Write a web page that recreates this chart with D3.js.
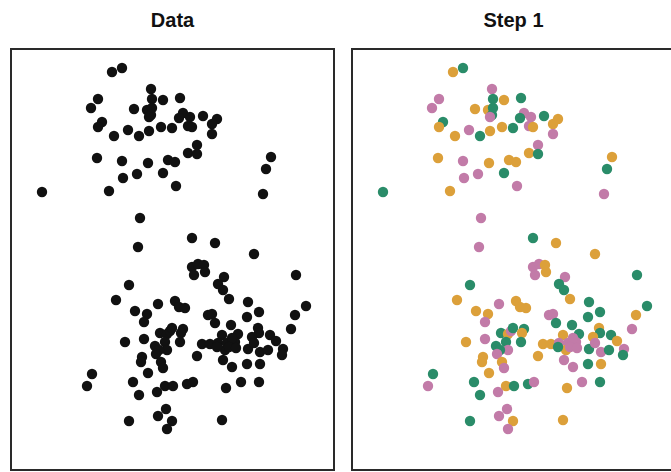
<!DOCTYPE html>
<html>
<head>
<meta charset="utf-8">
<script src="https://cdn.jsdelivr.net/npm/d3@7"></script>
<style>
    body { margin: 0; background: #fff; }
</style>
</head>
<body>
<div id="grafico-contenedor"></div>
<script>
/**************************************************
 * Data
***************************************************/
const xValues = [
    101, 111, 140, 87, 80, 141, 152, 169, 123, 136, 141, 140, 138, 172, 168, 179, 192, 206, 201, 177,
    181, 201, 91, 87, 103, 117, 128, 138, 150, 161, 186, 177, 186, 86, 111, 137, 157, 164, 112, 126,
    152, 165, 98, 31, 260, 255, 252, 129, 181, 204, 127, 243, 181, 187, 193, 183, 194, 285, 118, 213,
    207, 212, 218, 105, 164, 168, 174, 147, 237, 248, 236, 124, 136, 133, 197, 201, 204, 220, 284, 295,
    280, 247, 248, 114, 133, 149, 156, 159, 161, 172, 170, 154, 156, 169, 191, 199, 144, 148, 145, 150,
    152, 131, 130, 137, 186, 81, 76, 122, 128, 146, 154, 162, 176, 182, 155, 147, 161, 118, 156, 211,
    227, 207, 216, 224, 214, 212, 221, 206, 221, 241, 237, 243, 249, 257, 259, 265, 272, 271, 236, 249,
    230, 248, 215, 211, 218, 225
];
const yValues = [
    398, 402, 381, 371, 362, 371, 370, 372, 361, 360, 362, 355, 353, 357, 352, 353, 354, 351, 346, 344,
    343, 336, 348, 343, 334, 340, 334, 339, 343, 342, 325, 317, 316, 312, 309, 307, 310, 308, 292, 296,
    297, 284, 279, 278, 313, 301, 276, 252, 232, 227, 223, 216, 203, 206, 205, 195, 198, 195, 185, 193,
    186, 180, 171, 170, 169, 163, 162, 166, 168, 158, 153, 159, 156, 148, 155, 156, 147, 145, 155, 164,
    141, 142, 137, 128, 131, 137, 136, 139, 142, 141, 137, 128, 120, 128, 126, 126, 124, 120, 116, 108,
    102, 113, 108, 97, 114, 96, 84, 88, 75, 78, 84, 84, 86, 88, 61, 54, 49, 49, 41, 135,
    136, 127, 127, 128, 120, 110, 103, 123, 132, 133, 121, 127, 118, 120, 135, 129, 121, 115, 106, 106,
    88, 88, 82, 50, 123, 122
];
// Step 1: random cluster assignment (0 = orange, 1 = pink, 2 = green)
const step1 = [
    0, 2, 1, 1, 1, 2, 0, 2, 0, 0, 2, 2, 1, 1, 2, 1, 2, 0, 0, 1,
    0, 1, 2, 0, 0, 1, 2, 0, 0, 2, 1, 0, 2, 0, 1, 0, 0, 0, 1, 1,
    2, 1, 0, 2, 0, 2, 1, 1, 2, 0, 1, 0, 1, 1, 0, 1, 0, 2, 2, 1,
    2, 2, 0, 0, 0, 0, 0, 1, 2, 2, 2, 0, 0, 1, 1, 1, 2, 2, 0, 2,
    1, 0, 2, 0, 1, 2, 0, 1, 2, 2, 0, 2, 1, 2, 0, 0, 2, 2, 1, 0,
    1, 0, 0, 0, 0, 2, 1, 2, 2, 1, 0, 2, 2, 1, 1, 1, 0, 2, 1, 0,
    2, 1, 1, 1, 0, 1, 1, 2, 1, 0, 2, 1, 1, 2, 2, 0, 1, 2, 2, 0,
    1, 2, 0, 0, 1, 1
];
const panelTitles = ["Data", "Step 1"];
const clusterColors = ["#DCA03A", "#C27BA8", "#2A8C69"];

const dataset = xValues.map((x, i) => ({ x, y: yValues[i], k: step1[i] }));

/**************************************************
 * Dimensions
***************************************************/
const width = 671;
const height = 472;
const panelTop = 49;
const panelW = 323;
const panelH = 421;
const panelLefts = [11, 352];

const svg = d3.select("#grafico-contenedor")
    .append("svg")
    .attr("width", width)
    .attr("height", height)
    .style("display", "block")
    .style("background", "#fff");

// Scales (y is shared, x per panel)
const yScale = d3.scaleLinear()
    .domain([0, 421])
    .range([panelTop + panelH, panelTop]);

const colorScale = d3.scaleOrdinal()
    .domain([0, 1, 2])
    .range(clusterColors);

/**************************************************
 * Panels
***************************************************/
panelTitles.forEach((title, p) => {
    const left = panelLefts[p];
    const xScale = d3.scaleLinear()
        .domain([0, 323])
        .range([left, left + panelW]);

    const g = svg.append("g").attr("class", "panel");

    // titulo
    g.append("text")
        .attr("x", left + panelW / 2)
        .attr("y", 27)
        .attr("text-anchor", "middle")
        .style("font-family", "'Liberation Sans', Arial, sans-serif")
        .style("font-weight", "bold")
        .style("font-size", "20px")
        .style("fill", "#111")
        .text(title);

    // puntos
    g.append("g")
        .selectAll("circle")
        .data(dataset)
        .enter()
        .append("circle")
        .attr("cx", d => xScale(d.x))
        .attr("cy", d => yScale(d.y))
        .attr("r", 5.2)
        .attr("fill", d => p === 0 ? "#111" : colorScale(d.k));

    // marco
    g.append("rect")
        .attr("x", left)
        .attr("y", panelTop)
        .attr("width", panelW)
        .attr("height", panelH)
        .attr("fill", "none")
        .attr("stroke", "#2a2a2a")
        .attr("stroke-width", 2);
});
</script>
</body>
</html>
